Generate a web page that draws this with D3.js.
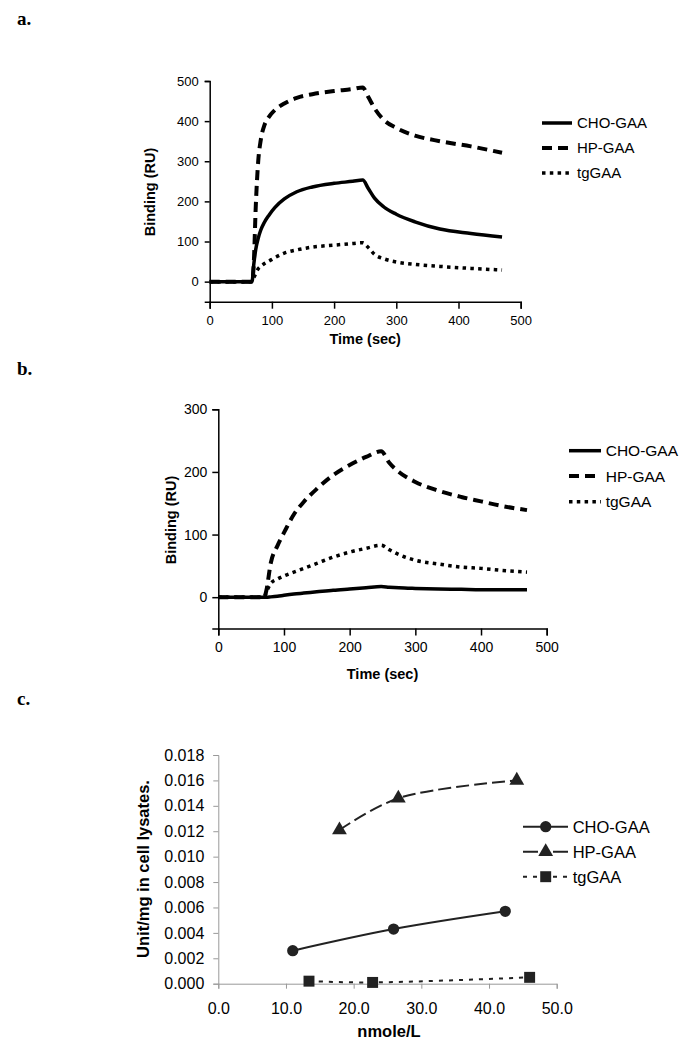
<!DOCTYPE html>
<html><head><meta charset="utf-8">
<script src="https://cdn.jsdelivr.net/npm/d3@7"></script>
<style>body{margin:0;background:#fff}svg{display:block}</style>
</head><body>
<svg id="chart" width="693" height="1050"></svg>
<script>
// ---- Data ----
const seriesNames = ["CHO-GAA", "HP-GAA", "tgGAA"];

// Panel a
const aTime = [0, 68, 71, 74, 78, 82, 88, 95, 105, 120, 140, 165, 200, 230, 246, 255, 265, 280, 300, 330, 370, 420, 470];
const aCHO  = [0, 0, 45, 80, 108, 128, 148, 165, 185, 206, 224, 236, 245, 250, 253, 232, 208, 186, 168, 149, 131, 120, 111];
const aHP   = [0, 0, 50, 185, 300, 352, 390, 410, 428, 444, 458, 467, 475, 480, 484, 460, 432, 403, 383, 364, 350, 337, 321];
const aTG   = [0, 0, 10, 20, 32, 38, 45, 51, 60, 71, 79, 86, 91, 95, 97, 85, 68, 57, 49, 43, 38, 33, 29];

// Panel b
const bTime = [0, 70, 73, 80, 90, 100, 115, 130, 150, 175, 200, 225, 248, 260, 275, 300, 335, 370, 400, 430, 470];
const bCHO  = [0, 0, 0, 0.5, 1.5, 3, 5, 6.5, 8.5, 11, 13, 15, 17, 16, 15, 14, 13, 12.5, 12, 12, 12];
const bHP   = [0, 0, 10, 55, 82, 103, 132, 152, 173, 195, 211, 224, 233, 215, 200, 184, 170, 160, 153, 146, 139];
const bTG   = [0, 0, 8, 22, 29, 34, 40, 46, 54, 64, 72, 78, 83, 76, 68, 59, 53, 48, 46, 43, 40];

// Panel c
const cCHOx = [11.0, 25.9, 42.4];
const cCHOy = [0.0026, 0.0043, 0.0057];
const cHPx  = [17.9, 26.6, 44.1];
const cHPy  = [0.0121, 0.0146, 0.0160];
const cTGx  = [13.4, 22.8, 46.0];
const cTGy  = [0.0002, 0.0001, 0.0005];

const abTicksX = [0, 100, 200, 300, 400, 500];
const aTicksY = [0, 100, 200, 300, 400, 500];
const bTicksY = [0, 100, 200, 300];
const cTicksX = [0, 10, 20, 30, 40, 50];
const cTicksY = [0, 0.002, 0.004, 0.006, 0.008, 0.010, 0.012, 0.014, 0.016, 0.018];

// ---- Drawing ----
const svg = d3.select("#chart");
const SANS = "Liberation Sans, Arial, Helvetica, sans-serif";
const SERIF = "Liberation Serif, Times New Roman, serif";

const lineStyles = [
  {dash: null, width: 3.5},
  {dash: "10,6", width: 4},
  {dash: "3.5,4.3", width: 3.5}
];

function panelLabel(txt, x, y) {
  svg.append("text").attr("x", x).attr("y", y).text(txt)
    .attr("font-family", SERIF).attr("font-weight", "bold").attr("font-size", 19);
}

function kineticPanel(cfg) {
  const x = d3.scaleLinear().domain([0, 500]).range(cfg.xr);
  const y = d3.scaleLinear().domain(cfg.yd).range(cfg.yr);
  const g = svg.append("g");

  const yAx = g.append("g").attr("transform", `translate(${cfg.xr[0]},0)`)
    .call(d3.axisLeft(y).tickValues(cfg.yTicks).tickSizeOuter(0).tickSize(cfg.tickY).tickPadding(cfg.padY));
  const xAx = g.append("g").attr("transform", `translate(0,${cfg.yr[0]})`)
    .call(d3.axisBottom(x).tickValues(abTicksX).tickSizeOuter(0).tickSize(7).tickPadding(cfg.padX));
  [yAx, xAx].forEach(a => {
    a.selectAll("path,line").attr("stroke", "#000").attr("stroke-width", 1.5);
    a.selectAll("text").attr("font-family", SANS).attr("font-size", cfg.fs).attr("fill", "#000");
  });

  const series = [cfg.cho, cfg.hp, cfg.tg];
  series.forEach((vals, i) => {
    const pts = cfg.time.map((t, k) => [t, vals[k]]);
    const line = d3.line().x(d => x(d[0])).y(d => y(d[1])).curve(d3.curveMonotoneX);
    const p = g.append("path").datum(pts).attr("d", line)
      .attr("fill", "none").attr("stroke", "#000")
      .attr("stroke-width", lineStyles[i].width);
    if (lineStyles[i].dash) p.attr("stroke-dasharray", lineStyles[i].dash);
  });

  // axis titles
  g.append("text").attr("transform", `translate(${cfg.ylabX},${cfg.ylabY}) rotate(-90)`)
    .attr("text-anchor", "middle").attr("font-family", SANS).attr("font-weight", "bold")
    .attr("font-size", 14.5).text("Binding (RU)");
  g.append("text").attr("x", (cfg.xr[0] + cfg.xr[1]) / 2).attr("y", cfg.xlabY)
    .attr("text-anchor", "middle").attr("font-family", SANS).attr("font-weight", "bold")
    .attr("font-size", 14.5).text("Time (sec)");

  // legend
  seriesNames.forEach((n, i) => {
    const yy = cfg.legY[i];
    const l = g.append("line").attr("x1", cfg.legX[0]).attr("x2", cfg.legX[1])
      .attr("y1", yy).attr("y2", yy).attr("stroke", "#000")
      .attr("stroke-width", lineStyles[i].width);
    if (lineStyles[i].dash) l.attr("stroke-dasharray", lineStyles[i].dash);
    g.append("text").attr("x", cfg.legX[2]).attr("y", yy).attr("dy", "0.36em")
      .attr("font-family", SANS).attr("font-size", cfg.legFs).text(n);
  });
}

panelLabel("a.", 17, 25);
kineticPanel({
  xr: [209.7, 520.7], yd: [-50, 500], yr: [301.7, 81],
  yTicks: aTicksY, tickY: 5, padY: 6, padX: 7, fs: 13,
  time: aTime, cho: aCHO, hp: aHP, tg: aTG,
  ylabX: 154.5, ylabY: 192, xlabY: 343.5,
  legX: [542, 572, 577], legY: [123, 148, 173], legFs: 15
});

panelLabel("b.", 17, 375);
kineticPanel({
  xr: [218.3, 546.7], yd: [-50, 300], yr: [628.5, 409.3],
  yTicks: bTicksY, tickY: 6, padY: 5, padX: 7, fs: 14,
  time: bTime, cho: bCHO, hp: bHP, tg: bTG,
  ylabX: 175.5, ylabY: 520, xlabY: 679,
  legX: [569, 601, 605.7], legY: [450.7, 476, 501.7], legFs: 15.5
});

// Panel c
panelLabel("c.", 17, 705);
(function () {
  const x = d3.scaleLinear().domain([0, 50]).range([218.3, 556.7]);
  const y = d3.scaleLinear().domain([0, 0.018]).range([983.7, 755]);
  const g = svg.append("g");
  const yAx = g.append("g").attr("transform", "translate(218.3,0)")
    .call(d3.axisLeft(y).tickValues(cTicksY).tickFormat(d3.format(".3f")).tickSizeOuter(0).tickSize(5).tickPadding(9));
  const xAx = g.append("g").attr("transform", "translate(0,983.7)")
    .call(d3.axisBottom(x).tickValues(cTicksX).tickFormat(d3.format(".1f")).tickSizeOuter(0).tickSize(5).tickPadding(14));
  [yAx, xAx].forEach(a => {
    a.selectAll("path,line").attr("stroke", "#999").attr("stroke-width", 1);
    a.selectAll("text").attr("font-family", SANS).attr("font-size", 16).attr("fill", "#000");
  });

  const styles = [
    {dash: null, sym: d3.symbolCircle, size: 100},
    {dash: "13,5", sym: d3.symbolTriangle, size: 95},
    {dash: "4,6", sym: d3.symbolSquare, size: 120}
  ];
  const data = [[cCHOx, cCHOy], [cHPx, cHPy], [cTGx, cTGy]];
  const line = d3.line().x(d => x(d[0])).y(d => y(d[1])).curve(d3.curveCatmullRom.alpha(0.5));
  data.forEach(([xs, ys], i) => {
    const pts = xs.map((v, k) => [v, ys[k]]);
    const p = g.append("path").datum(pts).attr("d", line).attr("fill", "none")
      .attr("stroke", "#222").attr("stroke-width", 2);
    if (styles[i].dash) p.attr("stroke-dasharray", styles[i].dash);
    g.selectAll(null).data(pts).enter().append("path")
      .attr("transform", d => `translate(${x(d[0])},${y(d[1])})`)
      .attr("d", d3.symbol().type(styles[i].sym).size(styles[i].size))
      .attr("fill", "#222");
  });

  g.append("text").attr("transform", "translate(149,869) rotate(-90)")
    .attr("text-anchor", "middle").attr("font-family", SANS).attr("font-weight", "bold")
    .attr("font-size", 16.5).text("Unit/mg in cell lysates.");
  g.append("text").attr("x", 389).attr("y", 1037).attr("text-anchor", "middle")
    .attr("font-family", SANS).attr("font-weight", "bold").attr("font-size", 16.5).text("nmole/L");

  const legY = [826.7, 851.7, 876.7];
  seriesNames.forEach((n, i) => {
    const yy = legY[i];
    const l = g.append("line").attr("x1", 523).attr("x2", 568).attr("y1", yy).attr("y2", yy)
      .attr("stroke", "#222").attr("stroke-width", 2);
    if (i === 1) l.attr("stroke-dasharray", "15,15");
    if (i === 2) l.attr("stroke-dasharray", "4,6");
    g.append("path").attr("transform", `translate(545.7,${yy})`)
      .attr("d", d3.symbol().type(styles[i].sym).size(styles[i].size)).attr("fill", "#222");
    g.append("text").attr("x", 572.7).attr("y", yy).attr("dy", "0.36em")
      .attr("font-family", SANS).attr("font-size", 16.5).text(n);
  });
})();
</script>
</body></html>
